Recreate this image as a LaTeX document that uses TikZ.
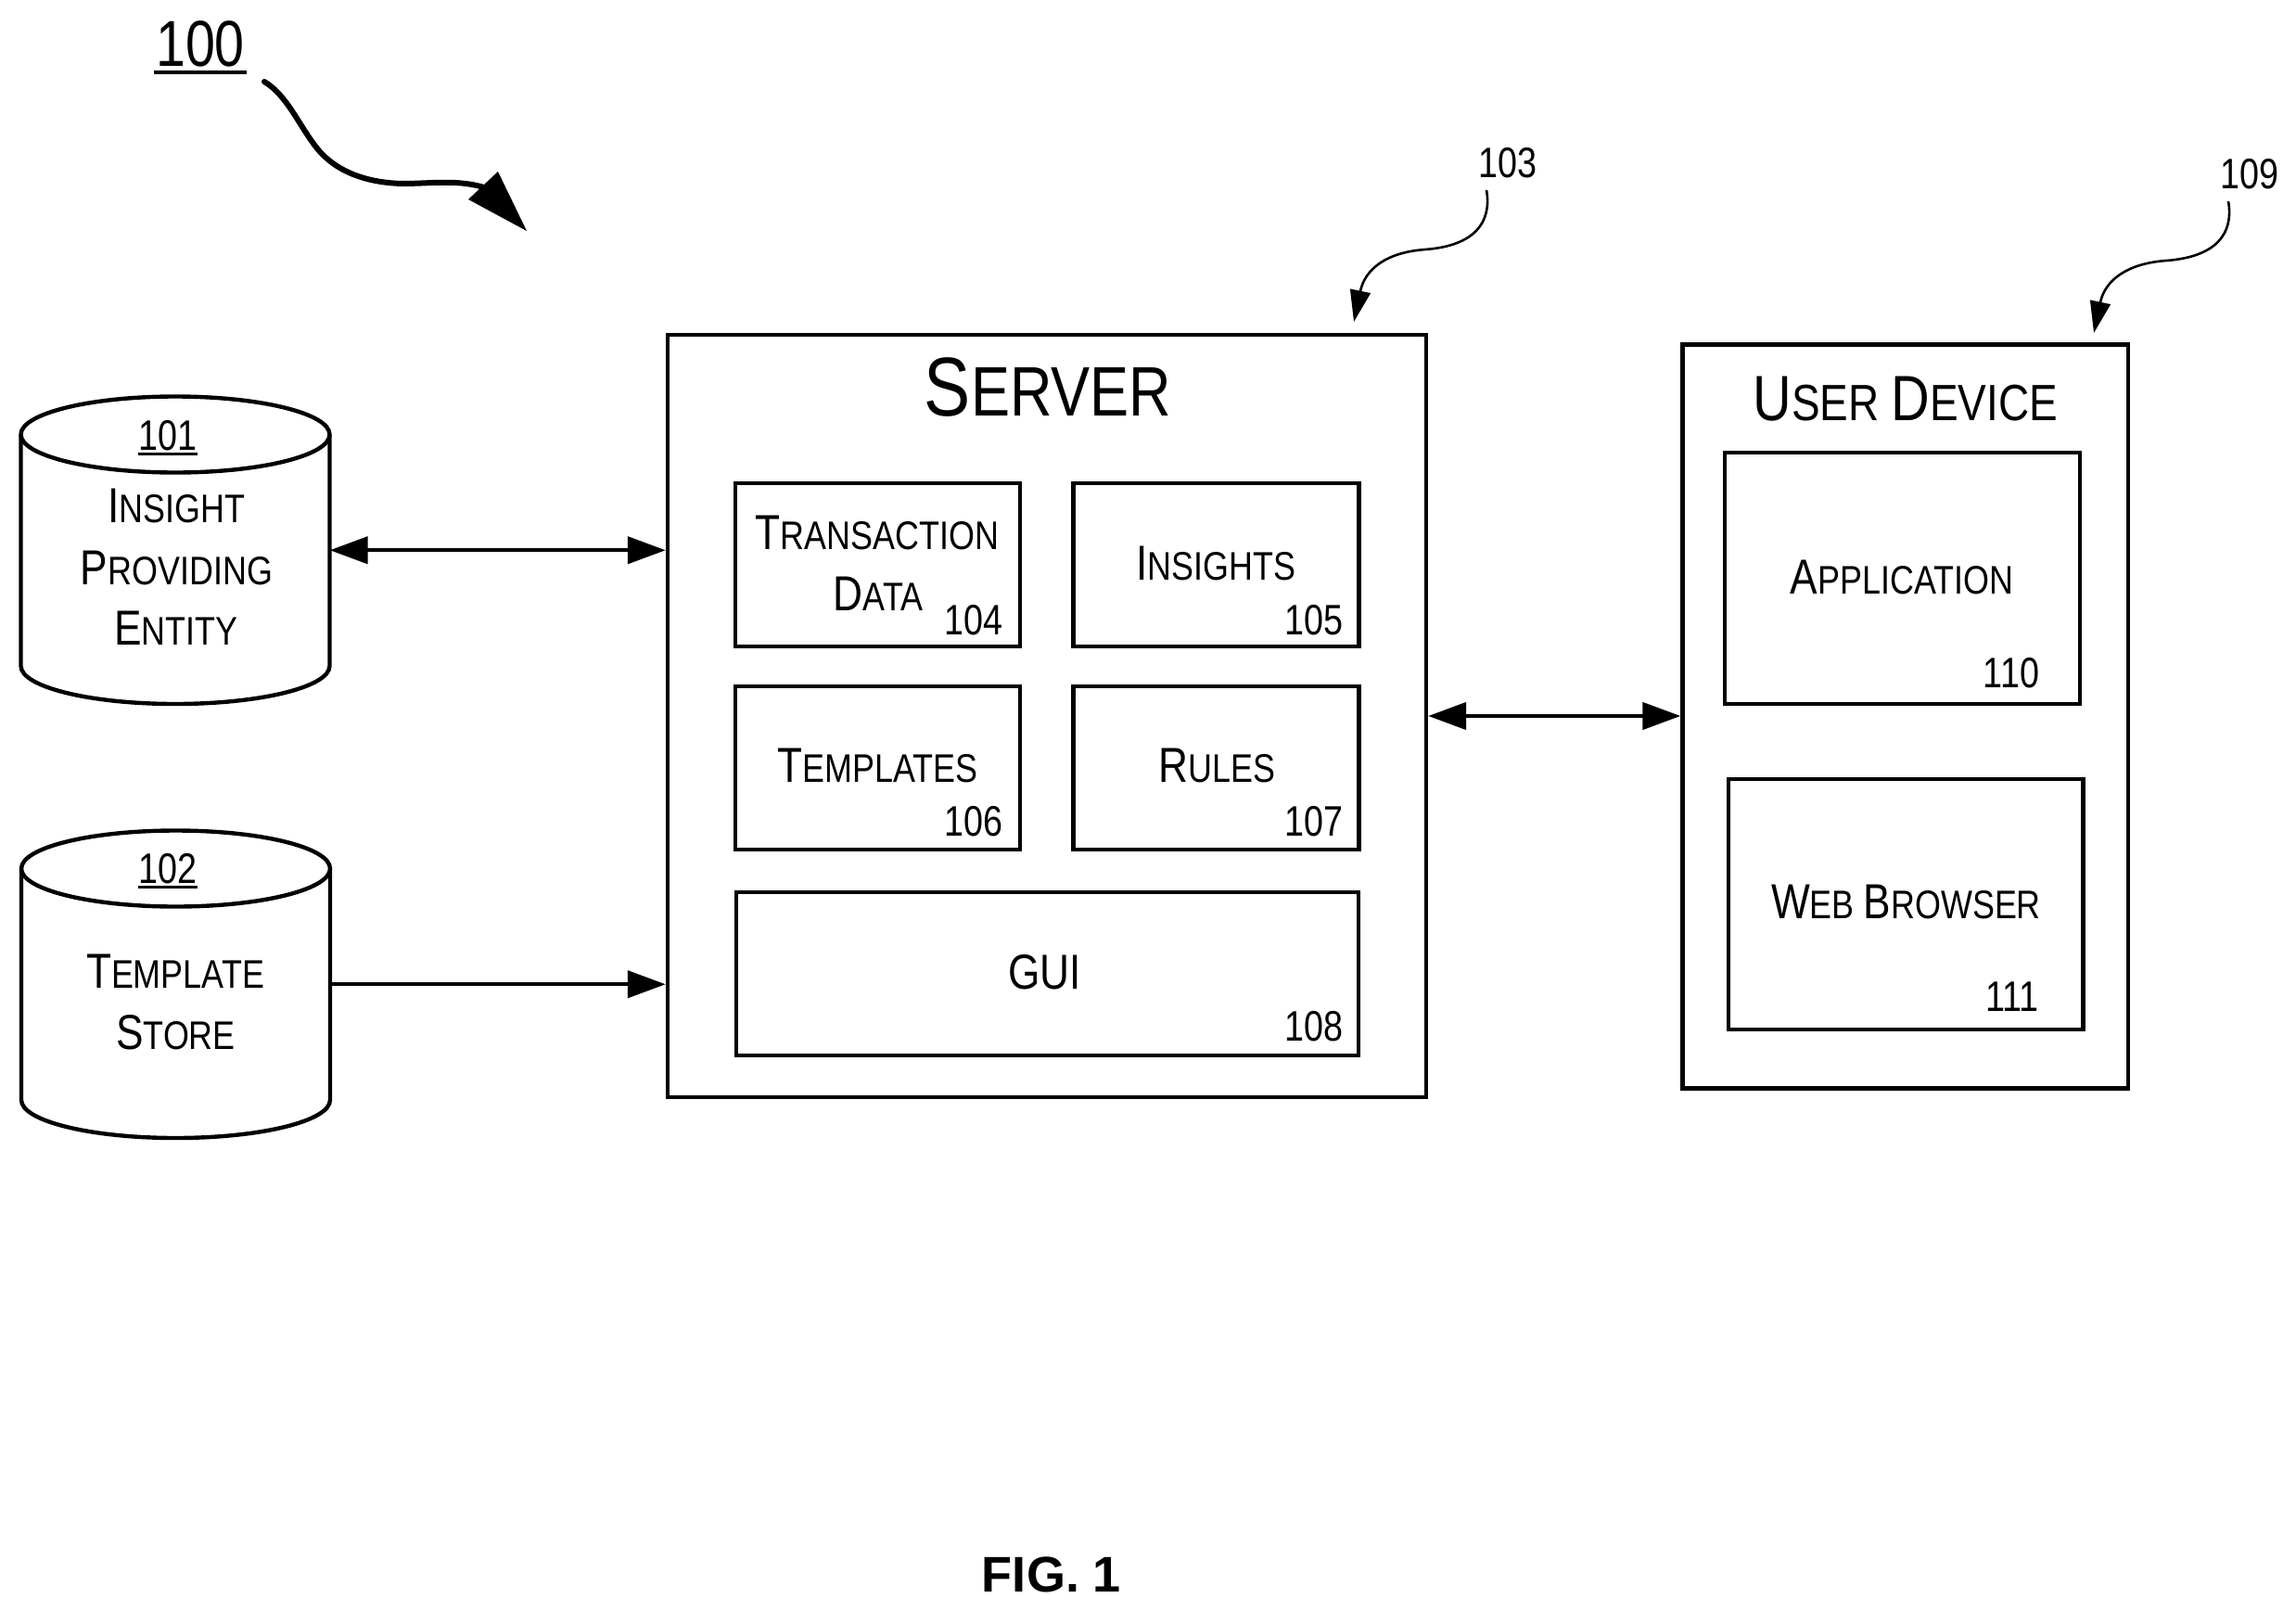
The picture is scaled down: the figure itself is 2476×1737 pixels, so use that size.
\documentclass[tikz,border=0pt]{standalone}
\usepackage{fontspec}
\setmainfont{Liberation Sans}
\newfontfamily\narrowf[FakeStretch=0.82]{Liberation Sans}
\newfontfamily\capsf[FakeStretch=0.835]{Liberation Sans}
\usetikzlibrary{arrows.meta}
% small-capitals look: \C{X} sets a full capital, the rest is set small
\newcommand\capset[3]{\def\capbig{\fontsize{#1}{#3}\selectfont}\def\capsmall{\fontsize{#2}{#3}\selectfont}\capsf\capsmall}
\newcommand\C[1]{{\capbig #1}}
\newcommand\numset[1]{\narrowf\fontsize{#1}{#1}\selectfont}
\newcommand\ulined[3]{\setbox0=\hbox{#1}\hbox{\kern-#3\relax\rlap{\rule[-#2]{\dimexpr\wd0+2\dimexpr#3\relax\relax}{3.5pt}}\kern#3\relax\copy0}}
\tikzset{
  every node/.style={inner sep=0pt},
  box/.style={draw=black,line width=4.4pt,fill=white,rectangle},
  txt/.style={anchor=base,align=center,font=\capset{53}{43}{65.5}},
  bigtxt/.style={anchor=base,font=\capset{90}{75.5}{92}},
  midtxt/.style={anchor=base,font=\capset{69}{55}{69}},
  num/.style={anchor=base,font=\numset{46}},
  cylbody/.style={draw=black,line width=4.4pt,fill=white},
  link/.style={line width=4.4pt,draw=black},
  lead/.style={line width=2.6pt,draw=black,-{Triangle[length=34pt,width=22pt]}},
}
\begin{document}
\begin{tikzpicture}[x=1pt,y=-1pt]
\useasboundingbox (0,0) rectangle (2476,1737);

% reference 100
\node[anchor=base,font=\numset{70}] (n100) at (216,71.5) {\ulined{100}{8pt}{2.5pt}};
\coordinate (w0) at (285,88);
\coordinate (w1) at (525,203);
\coordinate (wt) at (568,249);
\coordinate (wa) at (537,185);
\coordinate (wb) at (505,215);
\draw[line width=6pt,line cap=round,black] (w0) .. controls (310,103) and (322,135) .. (342,160)
   .. controls (362,185) and (395,197) .. (434,198) .. controls (465,198) and (495,193) .. (w1);
\fill[black] (wt) -- (wa) -- (wb) -- cycle;

% cylinder 101
\node[minimum width=333pt,minimum height=331.5pt] (db1) at (189,593.25) {};
\draw[cylbody] (22.5,468.5) -- (22.5,718) arc[start angle=180,end angle=360,x radius=166.5pt,y radius=41pt] -- (355.5,468.5);
\draw[cylbody] (189,468.5) ellipse[x radius=166.5pt,y radius=41pt];
\node[anchor=base,font=\numset{46}] (l101) at (181,485.7) {\ulined{101}{5.5pt}{1pt}};
\node[txt] (t101a) at (190,563.8) {\C{I}NSIGHT};
\node[txt] (t101b) at (190.5,630) {\C{P}ROVIDING};
\node[txt] (t101c) at (190,695) {\C{E}NTITY};

% cylinder 102
\node[minimum width=333pt,minimum height=331.5pt] (db2) at (189.5,1061.25) {};
\draw[cylbody] (23,936.5) -- (23,1186) arc[start angle=180,end angle=360,x radius=166.5pt,y radius=41pt] -- (356,936.5);
\draw[cylbody] (189.5,936.5) ellipse[x radius=166.5pt,y radius=41pt];
\node[anchor=base,font=\numset{46}] (l102) at (181,952.7) {\ulined{102}{5.5pt}{1pt}};
\node[txt] (t102a) at (189,1065) {\C{T}EMPLATE};
\node[txt] (t102b) at (189.5,1131) {\C{S}TORE};

% server
\node[box,minimum width=818pt,minimum height=822.5pt] (server) at (1129,772) {};
\node[bigtxt] (tserver) at (1130,448) {\C{S}ERVER};
\node[box,minimum width=307pt,minimum height=176pt] (b104) at (946.5,609) {};
\node[box,minimum width=308pt,minimum height=176pt] (b105) at (1311.5,609) {};
\node[box,minimum width=307pt,minimum height=176pt] (b106) at (946.5,828) {};
\node[box,minimum width=308pt,minimum height=176pt] (b107) at (1311.5,828) {};
\node[box,minimum width=671pt,minimum height=176pt] (b108) at (1129.5,1050) {};
\node[txt] (t104a) at (946,592.5) {\C{T}RANSACTION};
\node[txt] (t104b) at (947,658) {\C{D}ATA};
\node[num] (n104) at (1049.7,684.6) {104};
\node[txt] (t105) at (1311.6,625.4) {\C{I}NSIGHTS};
\node[num] (n105) at (1417,684.6) {105};
\node[txt] (t106) at (946.3,843.7) {\C{T}EMPLATES};
\node[num] (n106) at (1049.7,901) {106};
\node[txt] (t107) at (1312.4,843.7) {\C{R}ULES};
\node[num] (n107) at (1417,901) {107};
\node[txt] (t108) at (1126.8,1066) {\C{GUI}};
\node[num] (n108) at (1417,1122) {108};

% user device
\node[box,minimum width=480.5pt,minimum height=802pt] (user) at (2054.75,772.5) {};
\node[midtxt] (tuser) at (2054.7,453.6) {\C{U}SER \C{D}EVICE};
\node[box,minimum width=383pt,minimum height=271pt] (b110) at (2051.5,623.5) {};
\node[box,minimum width=382.6pt,minimum height=270pt] (b111) at (2055,975) {};
\node[txt] (t110) at (2051,640) {\C{A}PPLICATION};
\node[num] (n110) at (2169,741.5) {110};
\node[txt] (t111) at (2055.5,990.7) {\C{W}EB \C{B}ROWSER};
\node[num] (n111) at (2170,1090.6) {111};

% connectors
\draw[link,{Triangle[length=41pt,width=29pt]}-{Triangle[length=41pt,width=29pt]}] (db1.east) -- (db1.east -| server.west);
\draw[link,-{Triangle[length=41pt,width=29pt]}] (db2.east) -- (db2.east -| server.west);
\draw[link,{Triangle[length=41pt,width=29pt]}-{Triangle[length=41pt,width=29pt]}] (server.east) -- (server.east -| user.west);

% lead lines
\node[num] (n103) at (1626,191.5) {103};
\node[num] (n109) at (2426,203.6) {109};
\coordinate (a103) at (1603,205);
\coordinate (e103) at (1460,347);
\coordinate (a109) at (2403,217);
\coordinate (e109) at (2258,359);
\draw[lead] (a103) .. controls (1609,240) and (1590,265) .. (1537,269) .. controls (1495,272) and (1472,290) .. (e103);
\draw[lead] (a109) .. controls (2409,252) and (2390,277) .. (2336,281) .. controls (2294,284) and (2270,302) .. (e109);

% caption
\node[anchor=base,font=\fontsize{54}{54}\selectfont\bfseries] (fig) at (1134,1716) {FIG. 1};
\end{tikzpicture}
\end{document}
